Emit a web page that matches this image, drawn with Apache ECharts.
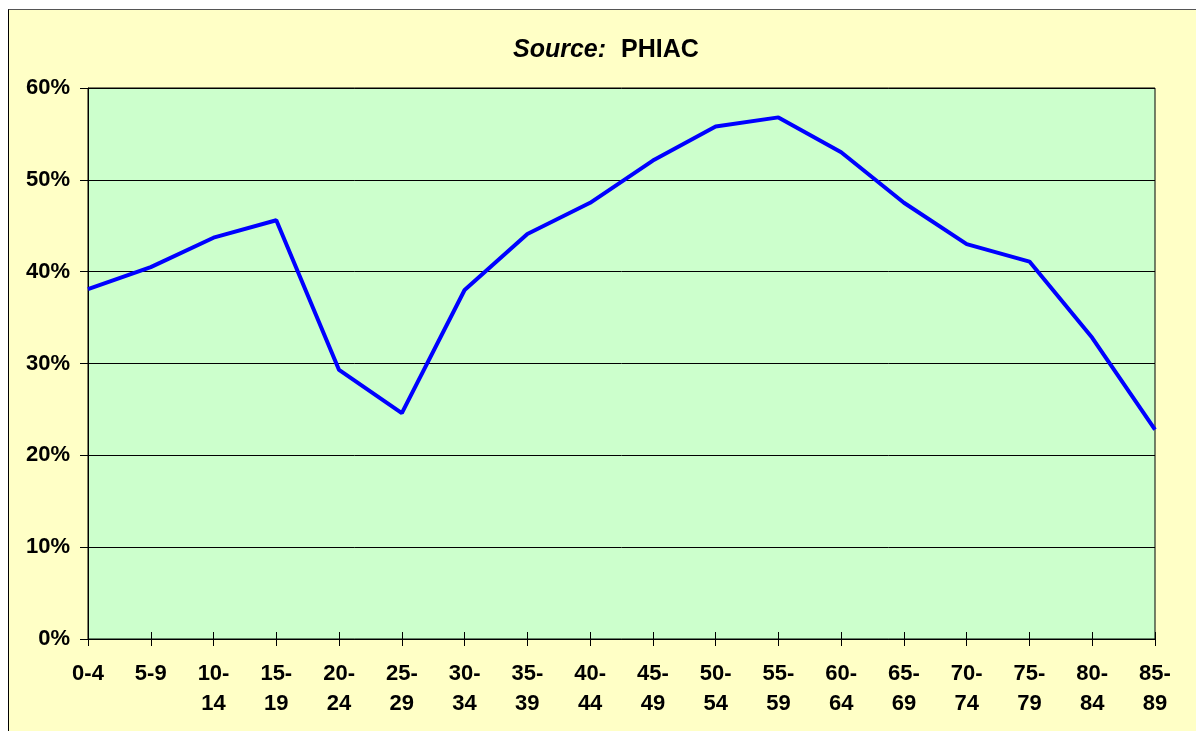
<!DOCTYPE html>
<html>
<head>
<meta charset="utf-8">
<script src="https://cdn.jsdelivr.net/npm/echarts@6/dist/echarts.min.js"></script>
<style>
html,body{margin:0;padding:0;background:#fff;width:1196px;height:731px;overflow:hidden;}
#frame{position:absolute;left:8px;top:9px;width:1200px;height:740px;background:#FFFFC6;border:1px solid #000;border-top-color:#555;}
#chart{position:absolute;left:0;top:0;width:1196px;height:731px;}
</style>
</head>
<body>
<div id="frame"></div>
<div id="chart"></div>
<script>
const categories = ['0-4','5-9','10-\n14','15-\n19','20-\n24','25-\n29','30-\n34','35-\n39','40-\n44','45-\n49','50-\n54','55-\n59','60-\n64','65-\n69','70-\n74','75-\n79','80-\n84','85-\n89'];
const values = [38.1,40.5,43.7,45.6,29.3,24.6,38.0,44.1,47.5,52.1,55.8,56.8,53.0,47.5,43.0,41.1,32.8,22.8];
const yTicks = [0,10,20,30,40,50,60];

const chart = echarts.init(document.getElementById('chart'), null, {renderer:'canvas'});
const font = 'Liberation Sans, Arial, sans-serif';
chart.setOption({
  backgroundColor: 'transparent',
  animation: false,
  title: {
    text: '{i|Source:}   {b|PHIAC}',
    left: 508,
    top: 33,
    textStyle: {
      rich: {
        i: {fontStyle:'italic', fontWeight:'bold', fontSize:25, fontFamily:font, color:'#000'},
        b: {fontWeight:'bold', fontSize:25, fontFamily:font, color:'#000'}
      }
    }
  },
  grid: {left:88, right:41, top:88, bottom:92, show:true, backgroundColor:'#CCFFCC', borderColor:'#000', borderWidth:1},
  xAxis: [{
    type:'category', data:categories, boundaryGap:false,
    axisLine:{lineStyle:{color:'#000', width:1}},
    axisTick:{show:true, inside:false, length:7, lineStyle:{color:'#000'}},
    axisLabel:{fontFamily:font, fontWeight:'bold', fontSize:22, color:'#000', margin:20, lineHeight:30, interval:0},
    splitLine:{show:false}
  },{
    type:'category', data:categories, boundaryGap:false, position:'bottom',
    axisLine:{show:false},
    axisTick:{show:true, inside:true, length:7, lineStyle:{color:'#000'}},
    axisLabel:{show:false},
    splitLine:{show:false}
  }],
  yAxis: {
    type:'value', min:yTicks[0], max:yTicks[yTicks.length-1], interval:10,
    axisLine:{show:true, lineStyle:{color:'#000', width:1}},
    axisTick:{show:true, length:8, lineStyle:{color:'#000'}},
    axisLabel:{formatter:'{value}%', fontFamily:font, fontWeight:'bold', fontSize:22, color:'#000', margin:18},
    splitLine:{show:true, lineStyle:{color:'#000', width:1}}
  },
  series: [{
    type:'line', data:values, xAxisIndex:0,
    symbol:'none', lineStyle:{color:'#0000FF', width:4}, z:5
  }]
});
</script>
</body>
</html>
